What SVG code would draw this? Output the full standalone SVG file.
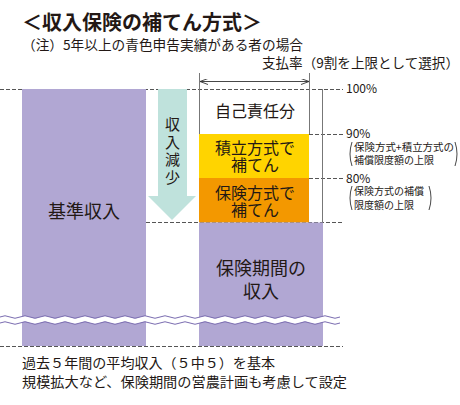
<svg xmlns="http://www.w3.org/2000/svg" width="460" height="405" viewBox="0 0 460 405">
<defs>
<style>
text{font-family:"Noto Sans CJK JP","Noto Sans",sans-serif;fill:#231815}
.t{font-size:13.5px}
.lbl{font-size:16px;text-anchor:middle}
.big{font-size:18px;text-anchor:middle}
.pct{font-size:12px}
.sm{font-size:10px}
.dash{stroke:#555;stroke-width:1;stroke-dasharray:4 2;fill:none}
.thin{stroke:#777;stroke-width:1;fill:none}
.wv{fill:none;stroke:#7a6cb0;stroke-width:1}
.par{fill:none;stroke:#333;stroke-width:0.9}
</style>
<marker id="ah" viewBox="0 0 8 6" refX="8" refY="3" markerWidth="8" markerHeight="6" orient="auto-start-reverse" markerUnits="userSpaceOnUse">
<path d="M0 0 L8 3 L0 6" fill="none" stroke="#333" stroke-width="0.9"/>
</marker>
</defs>
<rect width="460" height="405" fill="#fff"/>

<text x="22" y="30" font-size="20" font-weight="bold" textLength="240" lengthAdjust="spacingAndGlyphs">＜収入保険の補てん方式＞</text>
<text class="t" x="22" y="50" textLength="281" lengthAdjust="spacingAndGlyphs">（注）5年以上の青色申告実績がある者の場合</text>
<text class="t" x="262" y="68" textLength="197" lengthAdjust="spacingAndGlyphs">支払率（9割を上限として選択）</text>

<g id="connectors">
<line class="dash" x1="0" y1="89.5" x2="343" y2="89.5"/>
<line class="dash" x1="146" y1="222.5" x2="343" y2="222.5"/>
<line class="dash" x1="0" y1="346.5" x2="343" y2="346.5"/>
<line class="dash" x1="309" y1="134.5" x2="343" y2="134.5"/>
<line class="dash" x1="309" y1="178.5" x2="343" y2="178.5"/>
</g>

<g id="base-income">
<rect x="22" y="89" width="124" height="257" fill="#b1a7d3"/>
<text class="big" x="84" y="218">基準収入</text>
</g>

<g id="decrease-arrow">
<path d="M158 89 H187 V196 H196 L172 220 L148 196 H158 Z" fill="#bfe2dc"/>
<text x="172.5" y="117" font-size="15" style="writing-mode:vertical-rl" letter-spacing="2.5">収入減少</text>
</g>

<g id="self-responsibility">
<text class="lbl" x="255" y="117">自己責任分</text>
</g>

<g id="reserve">
<rect x="199" y="134" width="110" height="44" fill="#ffd400"/>
<text class="lbl" x="255" y="154">積立方式で<tspan x="255" dy="17">補てん</tspan></text>
</g>

<g id="insurance">
<rect x="199" y="178" width="110" height="44.5" fill="#f39800"/>
<text class="lbl" x="255" y="199">保険方式で<tspan x="255" dy="17">補てん</tspan></text>
</g>

<g id="period-income">
<rect x="199" y="222.5" width="124" height="123.5" fill="#b1a7d3"/>
<text class="big" x="261" y="275">保険期間の<tspan x="261" dy="23">収入</tspan></text>
</g>

<g id="dimension">
<line class="thin" x1="199.5" y1="73" x2="199.5" y2="134" stroke="#444"/>
<line class="thin" x1="309.5" y1="73" x2="309.5" y2="134" stroke="#444"/>
<line class="thin" x1="322.5" y1="89" x2="322.5" y2="222"/>
<line x1="200" y1="81.5" x2="309" y2="81.5" stroke="#333" stroke-width="0.9" marker-start="url(#ah)" marker-end="url(#ah)"/>
</g>

<g id="break">
<path d="M0 320 q5 -2.5 10 0 t10 0 t10 0 t10 0 t10 0 t10 0 t10 0 t10 0 t10 0 t10 0 t10 0 t10 0 t10 0 t10 0 t10 0 t10 0 t10 0 t10 0 t10 0 t10 0 t10 0 t10 0 t10 0 t10 0 t10 0 t10 0 t10 0 t10 0 t10 0 t10 0 t10 0 t10 0 t10 0 t10 0" fill="none" stroke="#fff" stroke-width="5.5"/>
<path class="wv" d="M0 317 q5 -2.5 10 0 t10 0 t10 0 t10 0 t10 0 t10 0 t10 0 t10 0 t10 0 t10 0 t10 0 t10 0 t10 0 t10 0 t10 0 t10 0 t10 0 t10 0 t10 0 t10 0 t10 0 t10 0 t10 0 t10 0 t10 0 t10 0 t10 0 t10 0 t10 0 t10 0 t10 0 t10 0 t10 0 t10 0"/>
<path class="wv" d="M0 323 q5 -2.5 10 0 t10 0 t10 0 t10 0 t10 0 t10 0 t10 0 t10 0 t10 0 t10 0 t10 0 t10 0 t10 0 t10 0 t10 0 t10 0 t10 0 t10 0 t10 0 t10 0 t10 0 t10 0 t10 0 t10 0 t10 0 t10 0 t10 0 t10 0 t10 0 t10 0 t10 0 t10 0 t10 0 t10 0"/>
</g>

<g id="level-labels">
<text class="pct" x="346" y="93">100%</text>
<text class="pct" x="346" y="138">90%</text>
<text class="pct" x="346" y="183">80%</text>
<path class="par" d="M352 142 Q348 154 352 166"/>
<text class="sm" x="354" y="151" textLength="100" lengthAdjust="spacingAndGlyphs">保険方式+積立方式の</text>
<text class="sm" x="354" y="164">補償限度額の上限</text>
<path class="par" d="M455 142 Q459 154 455 166"/>
<path class="par" d="M352 186 Q348 198 352 210"/>
<text class="sm" x="354" y="195">保険方式の補償</text>
<text class="sm" x="354" y="209">限度額の上限</text>
<path class="par" d="M429 186 Q433 198 429 210"/>
</g>

<text class="t" x="22" y="368" textLength="253" lengthAdjust="spacingAndGlyphs">過去５年間の平均収入（５中５）を基本</text>
<text class="t" x="22" y="387" textLength="325" lengthAdjust="spacingAndGlyphs">規模拡大など、保険期間の営農計画も考慮して設定</text>
</svg>
